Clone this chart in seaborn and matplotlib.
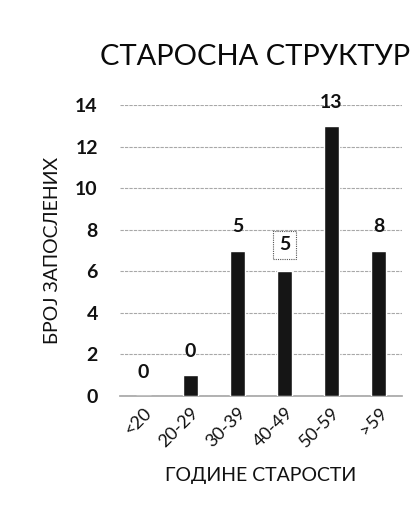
import pandas as pd
import seaborn as sns
import matplotlib.pyplot as plt

# Data
groups = ["<20", "20-29", "30-39", "40-49", "50-59", ">59"]
counts = [0, 1, 7, 6, 13, 7]
labels = ["0", "0", "5", "5", "13", "8"]

df = pd.DataFrame({"group": groups, "count": counts})

sns.set_theme(style="white")
plt.rcParams["font.family"] = ["Lato", "DejaVu Sans"]

fig = plt.figure(figsize=(4.2, 5.3), dpi=100)
ax = fig.add_axes([120 / 420, 1 - 396 / 530, 282 / 420, 291 / 530])

sns.barplot(data=df, x="group", y="count", color="#151515", width=0.3,
            saturation=1, ax=ax, zorder=3)

ax.set_ylim(0, 14)
ax.set_yticks(range(0, 15, 2))
ax.grid(axis="y", color="#a8a8a8", linewidth=0.8, linestyle=(0, (3, 1)), zorder=0)
for s in ["top", "right", "left"]:
    ax.spines[s].set_visible(False)
ax.spines["bottom"].set_color("#a8a8a8")
ax.spines["bottom"].set_linestyle((0, (3, 1)))

ax.tick_params(axis="y", labelsize=14, length=0, pad=16, labelcolor="#111111")
ax.tick_params(axis="x", labelsize=13, length=0, pad=6, labelcolor="#111111")
for t in ax.get_yticklabels():
    t.set_fontweight("bold")
plt.setp(ax.get_xticklabels(), rotation=45, ha="right", rotation_mode="anchor")

ax.set_xlabel("ГОДИНЕ СТАРОСТИ", fontsize=14, labelpad=12, color="#111111")
ax.set_ylabel("БРОЈ ЗАПОСЛЕНИХ", fontsize=14, labelpad=10, color="#111111")

# value labels as printed in the chart
for i, (c, lab) in enumerate(zip(counts, labels)):
    kw = {}
    if i == 3:
        kw["bbox"] = dict(boxstyle="square,pad=0.3", fc="white", ec="#555555",
                          ls=(0, (1, 1)), lw=0.8)
    ax.annotate(lab, (i, c), xytext=(0, 17 if i != 3 else 19),
                textcoords="offset points", ha="center", va="center",
                fontsize=14, fontweight="bold", color="#111111", **kw)

fig.text(100 / 420, 1 - 57 / 530, "СТАРОСНА СТРУКТУР", fontsize=21,
         ha="left", va="center", color="#0a0a0a")

fig.savefig("out.png")
